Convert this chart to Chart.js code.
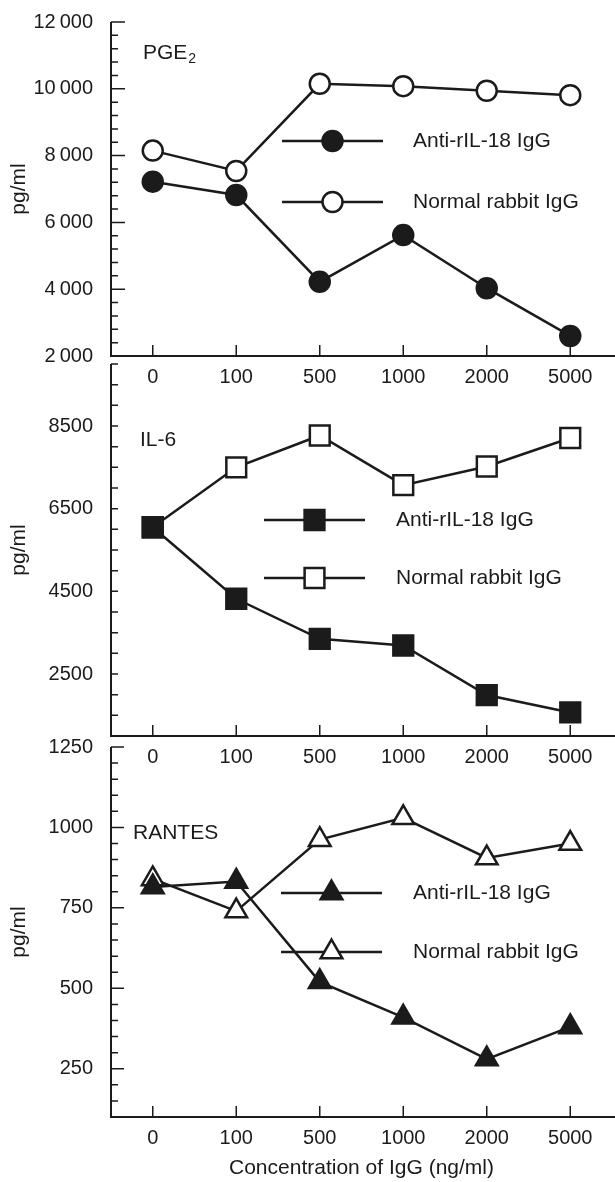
<!DOCTYPE html>
<html>
<head>
<meta charset="utf-8">
<script src="https://cdn.jsdelivr.net/npm/chart.js@4.4.0/dist/chart.umd.min.js"></script>
<style>
  html, body { margin: 0; padding: 0; background: #fff; }
  #wrap { position: relative; width: 615px; height: 1182px; overflow: hidden; }
  #wrap canvas { position: absolute; left: 0; }
</style>
</head>
<body>
<div id="wrap">
  <canvas id="pge" width="615" height="400" style="top:0px"></canvas>
  <canvas id="il6" width="615" height="440" style="top:340px"></canvas>
  <canvas id="rantes" width="615" height="462" style="top:720px"></canvas>
</div>
<script>
// x categories (ng/ml of IgG) shared by all three panels
const concentrations = ['0', '100', '500', '1000', '2000', '5000'];
const seriesNames = ['Anti-rIL-18 IgG', 'Normal rabbit IgG'];

// PGE2 panel
const pgeAnti   = [7220, 6820, 4220, 5620, 4030, 2600];
const pgeNormal = [8150, 7540, 10150, 10080, 9940, 9810];
const pgeTicks  = [2000, 4000, 6000, 8000, 10000, 12000];

// IL-6 panel
const il6Anti   = [6050, 4320, 3350, 3190, 1990, 1570];
const il6Normal = [6050, 7500, 8270, 7070, 7520, 8210];
const il6Ticks  = [2500, 4500, 6500, 8500];

// RANTES panel
const rantesAnti   = [815, 832, 520, 410, 280, 380];
const rantesNormal = [840, 740, 962, 1030, 905, 950];
const rantesTicks  = [250, 500, 750, 1000, 1250];

const INK = '#1b1b1b';
const FONT = '"Liberation Sans", Arial, Helvetica, sans-serif';
const LW = 2.5;
Chart.defaults.font.family = FONT;
Chart.defaults.color = INK;

// axes with inward ticks, x axis line running to the right edge
const inkAxes = {
  id: 'inkAxes',
  beforeDatasetsDraw(chart, args, opts) {
    const {ctx, chartArea: a, scales: {x, y}} = chart;
    ctx.save();
    ctx.strokeStyle = INK;
    ctx.lineWidth = 2;
    ctx.beginPath();
    ctx.moveTo(a.left, a.top);
    ctx.lineTo(a.left, a.bottom);
    ctx.moveTo(a.left - 1, a.bottom);
    ctx.lineTo(chart.width, a.bottom);
    ctx.stroke();
    ctx.lineWidth = 1.5;
    ctx.beginPath();
    y.ticks.forEach(t => {
      const py = y.getPixelForValue(t.value);
      const len = opts.major.includes(t.value) ? opts.majorLen : opts.minorLen;
      ctx.moveTo(a.left, py);
      ctx.lineTo(a.left + len, py);
    });
    x.ticks.forEach((t, i) => {
      const px = x.getPixelForTick(i);
      ctx.moveTo(px, a.bottom);
      ctx.lineTo(px, a.bottom - 11);
    });
    ctx.stroke();
    ctx.restore();
  }
};

// legend drawn inside the plot, line - marker - line, then the text
const inkLegend = {
  id: 'inkLegend',
  afterDatasetsDraw(chart, args, opts) {
    const ctx = chart.ctx;
    ctx.save();
    chart.data.datasets.forEach((ds, i) => {
      const y = opts.rows[i];
      ctx.strokeStyle = INK;
      ctx.lineWidth = LW;
      ctx.beginPath();
      ctx.moveTo(opts.x1, y);
      ctx.lineTo(opts.x2, y);
      ctx.stroke();
      ctx.fillStyle = ds.pointBackgroundColor;
      Chart.helpers.drawPoint(ctx, {
        pointStyle: ds.pointStyle, radius: ds.pointRadius, rotation: 0, borderWidth: LW
      }, (opts.x1 + opts.x2) / 2, y);
      ctx.fillStyle = INK;
      ctx.font = '21px ' + FONT;
      ctx.textAlign = 'left';
      ctx.textBaseline = 'middle';
      ctx.fillText(ds.label, opts.textX, y);
    });
    ctx.restore();
  }
};

// panel name in the upper left corner, with an optional subscript
const panelName = {
  id: 'panelName',
  afterDraw(chart, args, opts) {
    const ctx = chart.ctx;
    ctx.save();
    ctx.fillStyle = INK;
    ctx.textAlign = 'left';
    ctx.textBaseline = 'middle';
    ctx.font = '21px ' + FONT;
    ctx.fillText(opts.text, opts.x, opts.y);
    if (opts.sub) {
      const w = ctx.measureText(opts.text).width;
      ctx.font = '14px ' + FONT;
      ctx.fillText(opts.sub, opts.x + w + 1, opts.y + 6);
    }
    ctx.restore();
  }
};

function panel(id, o) {
  const point = (fill) => ({
    pointStyle: o.style,
    pointRadius: o.radius,
    pointHoverRadius: o.radius,
    pointBackgroundColor: fill,
    pointBorderColor: INK,
    pointBorderWidth: LW,
    borderColor: INK,
    borderWidth: LW,
    tension: 0
  });
  return new Chart(document.getElementById(id), {
    type: 'line',
    data: {
      labels: concentrations,
      datasets: [
        Object.assign({label: seriesNames[0], data: o.anti}, point(INK)),
        Object.assign({label: seriesNames[1], data: o.normal}, point('#ffffff'))
      ]
    },
    options: {
      responsive: false,
      animation: false,
      devicePixelRatio: 1,
      layout: {autoPadding: false, padding: {top: o.padTop, right: 3, left: 0, bottom: 0}},
      plugins: {
        legend: {display: false},
        tooltip: {enabled: false},
        inkAxes: {major: o.ticks, majorLen: o.majorLen, minorLen: 7},
        inkLegend: o.legend,
        panelName: o.name
      },
      scales: {
        x: {
          type: 'category',
          offset: true,
          grid: {display: false, drawTicks: false},
          border: {display: false},
          ticks: {font: {size: 20}, padding: 9, color: INK, maxRotation: 0},
          title: {
            display: !!o.xTitle,
            text: o.xTitle || '',
            font: {size: 21},
            color: INK,
            padding: {top: 0, bottom: 1}
          },
          afterFit: s => {
            s.height = o.xHeight;
            s.paddingLeft = 0;
            s.paddingRight = 0;
          }
        },
        y: {
          min: o.min,
          max: o.max,
          grid: {display: false, drawTicks: false},
          border: {display: false},
          ticks: {
            stepSize: o.step,
            autoSkip: false,
            padding: 18,
            font: {size: 20},
            color: INK,
            callback: v => o.ticks.includes(v) ? o.fmt(v) : ''
          },
          title: {display: true, text: 'pg/ml', font: {size: 21}, color: INK, padding: {top: 7, bottom: 0}},
          afterFit: s => {
            s.width = 111;
            s.paddingTop = 0;
            s.paddingBottom = 0;
          }
        }
      }
    },
    plugins: [inkAxes, inkLegend, panelName]
  });
}

const spaced = v => String(v).replace(/\B(?=(\d{3})+(?!\d))/g, '\u2009');

panel('pge', {
  anti: pgeAnti, normal: pgeNormal, ticks: pgeTicks,
  min: 2000, max: 12000, step: 400, fmt: spaced,
  style: 'circle', radius: 10, majorLen: 14,
  padTop: 22, xHeight: 44,
  legend: {x1: 282, x2: 383, rows: [141, 202], textX: 413},
  name: {text: 'PGE', sub: '2', x: 143, y: 53}
});

panel('il6', {
  anti: il6Anti, normal: il6Normal, ticks: il6Ticks,
  min: 1000, max: 10000, step: 500, fmt: v => String(v),
  style: 'rect', radius: 14, majorLen: 7,
  padTop: 24, xHeight: 44,
  legend: {x1: 264, x2: 365, rows: [180, 238], textX: 396},
  name: {text: 'IL-6', x: 140, y: 100}
});

panel('rantes', {
  anti: rantesAnti, normal: rantesNormal, ticks: rantesTicks,
  min: 100, max: 1250, step: 50, fmt: v => String(v),
  style: 'triangle', radius: 12.5, majorLen: 13,
  padTop: 27, xHeight: 65,
  xTitle: 'Concentration of IgG (ng/ml)',
  legend: {x1: 281, x2: 382, rows: [173, 232], textX: 413},
  name: {text: 'RANTES', x: 133, y: 113}
});
</script>
</body>
</html>
